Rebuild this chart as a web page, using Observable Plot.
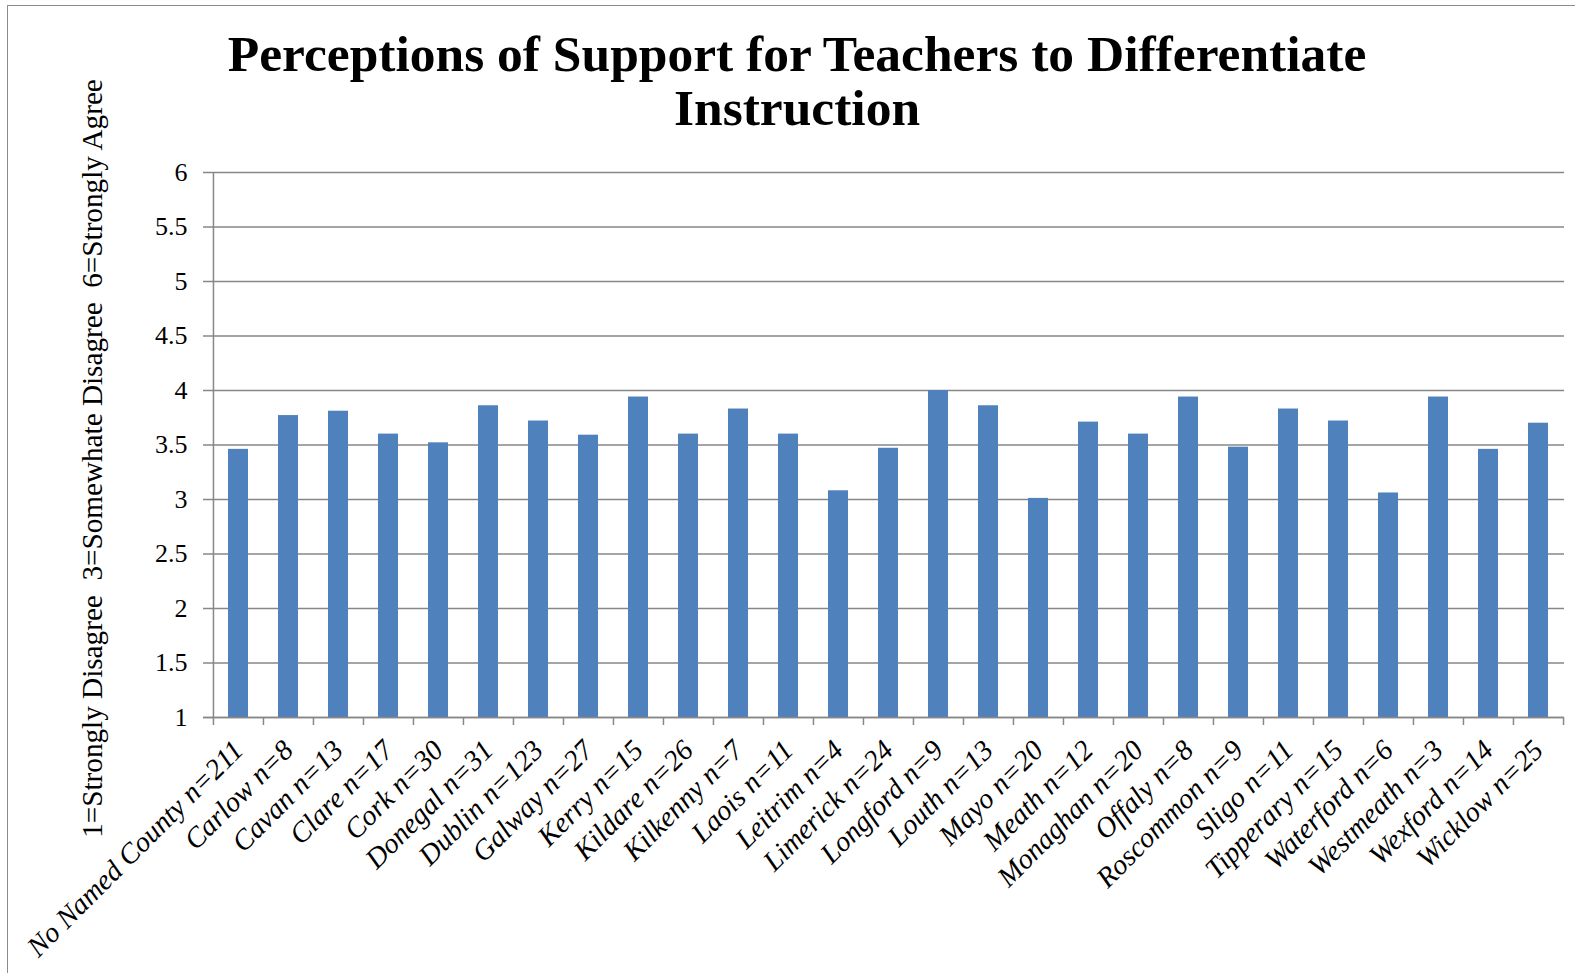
<!DOCTYPE html>
<html>
<head>
<meta charset="utf-8">
<script src="https://cdn.jsdelivr.net/npm/d3@7"></script>
<script src="https://cdn.jsdelivr.net/npm/@observablehq/plot@0.6"></script>
<style>
  body { margin: 0; background: #fff; overflow: hidden; }
  #page { position: relative; width: 1575px; height: 973px; overflow: hidden; background: #fff; }
  #frame { position: absolute; left: 7px; top: 5px; width: 1620px; height: 1020px; z-index: 2;
           border-left: 1.5px solid #8c8c8c; border-top: 1.5px solid #8c8c8c; pointer-events: none; }
  #title { position: relative; height: 150px; box-sizing: border-box; padding-top: 27px; padding-left: 19px;
           text-align: center; font: bold 51.5px "Liberation Serif", serif; line-height: 54px; color: #000; }
  #chart { position: relative; }
  #chart svg { display: block; }
</style>
</head>
<body>
<div id="page">
  <div id="frame"></div>
  <div id="title">Perceptions of Support for Teachers to Differentiate<br>Instruction</div>
  <div id="chart"></div>
</div>
<script>
// Counties and number of respondents in each
const counties = [
  "No Named County", "Carlow", "Cavan", "Clare", "Cork", "Donegal", "Dublin", "Galway", "Kerry",
  "Kildare", "Kilkenny", "Laois", "Leitrim", "Limerick", "Longford", "Louth", "Mayo", "Meath",
  "Monaghan", "Offaly", "Roscommon", "Sligo", "Tipperary", "Waterford", "Westmeath", "Wexford", "Wicklow"
];
const respondents = [211, 8, 13, 17, 30, 31, 123, 27, 15, 26, 7, 11, 4, 24, 9, 13, 20, 12, 20, 8, 9, 11, 15, 6, 3, 14, 25];

// Mean agreement score per county (1–6 scale)
const meanScores = [
  3.46, 3.77, 3.81, 3.60, 3.52, 3.86, 3.72, 3.59, 3.94,
  3.60, 3.83, 3.60, 3.08, 3.47, 4.00, 3.86, 3.01, 3.71,
  3.60, 3.94, 3.48, 3.83, 3.72, 3.06, 3.94, 3.46, 3.70
];

const yTicks = [1, 1.5, 2, 2.5, 3, 3.5, 4, 4.5, 5, 5.5, 6];
const yTitle = "1=Strongly Disagree\u00a0 3=Somewhate Disagree\u00a0 6=Strongly Agree";

const labels = counties.map((c, i) => `${c} n=${respondents[i]}`);
const rows = labels.map((label, i) => ({label, value: meanScores[i]}));

const W = 1575, H = 823, ML = 212, MR = 11, MT = 22, MB = 256;
const step = (W - ML - MR) / labels.length;
const gridColor = "#878787";
const barColor = "#4f81bd";

const chart = Plot.plot({
  width: W,
  height: H,
  marginTop: MT,
  marginBottom: MB,
  marginLeft: ML,
  marginRight: MR,
  style: {fontFamily: '"Liberation Serif", serif', background: "white", color: "#000", overflow: "visible"},
  x: {type: "band", domain: labels, paddingInner: 0.61, paddingOuter: 0.305, axis: null},
  y: {domain: [1, 6], axis: null},
  marks: [
    // horizontal gridlines, extended left to form the y ticks
    Plot.ruleY(yTicks, {y: d => d, stroke: gridColor, strokeWidth: 1.5, insetLeft: -9}),
    // bars
    Plot.barY(rows, {x: "label", y1: 1, y2: "value", fill: barColor}),
    // baseline
    Plot.ruleY([1], {y: d => d, stroke: gridColor, strokeWidth: 1.5, insetLeft: -9}),
    // y axis line
    Plot.ruleX([labels[0]], {x: d => d, y1: 1, y2: 6, dx: -step / 2, stroke: gridColor, strokeWidth: 1.5}),
    // category boundary ticks below the baseline
    Plot.ruleX(labels, {x: d => d, y1: 1, y2: 1, insetBottom: -8, dx: -step / 2, stroke: gridColor, strokeWidth: 1.5}),
    Plot.ruleX([labels[labels.length - 1]], {x: d => d, y1: 1, y2: 1, insetBottom: -8, dx: step / 2, stroke: gridColor, strokeWidth: 1.5}),
    // y tick labels
    Plot.text(yTicks, {y: d => d, text: d => String(d), frameAnchor: "left", dx: -25, textAnchor: "end", fontSize: 26, fill: "#000"}),
    // rotated category labels
    Plot.text(rows, {x: "label", text: "label", frameAnchor: "bottom", rotate: -45, textAnchor: "end", lineAnchor: "middle",
                     dx: 0, dy: 28, fontSize: 28.5, fontStyle: "italic", fill: "#000"}),
    // y axis title
    Plot.text([yTitle], {text: d => d, frameAnchor: "left", rotate: -90, textAnchor: "middle", lineAnchor: "middle",
                         dx: -120, dy: 13.5, fontSize: 29.2, fill: "#000"})
  ]
});

document.getElementById("chart").appendChild(chart);
</script>
</body>
</html>
